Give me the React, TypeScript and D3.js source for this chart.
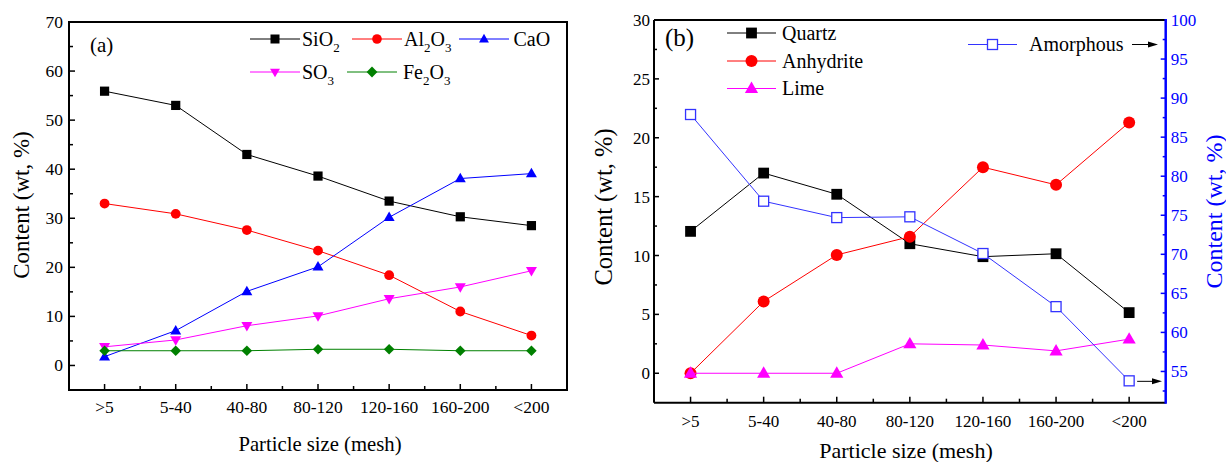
import React from "react";
import * as d3 from "d3";

const categories = [">5", "5-40", "40-80", "80-120", "120-160", "160-200", "<200"];

const sio2 = [55.9, 53.0, 43.0, 38.6, 33.5, 30.3, 28.5];
const al2o3 = [33.0, 30.9, 27.6, 23.4, 18.4, 11.0, 6.1];
const cao = [1.8, 7.1, 15.1, 20.1, 30.2, 38.1, 39.1];
const so3 = [3.8, 5.2, 8.1, 10.1, 13.6, 16.0, 19.3];
const fe2o3 = [3.0, 3.0, 3.0, 3.3, 3.3, 3.0, 3.0];

const quartz = [12.05, 17.0, 15.2, 11.0, 9.9, 10.15, 5.15];
const anhydrite = [0.0, 6.1, 10.05, 11.6, 17.5, 16.0, 21.3];
const lime = [0.0, 0.0, 0.0, 2.5, 2.4, 1.9, 2.9];
const amorphous = [87.9, 76.8, 74.7, 74.8, 70.1, 63.3, 53.8];

const yTicksA = [0, 10, 20, 30, 40, 50, 60, 70];
const yMinorA = [5, 15, 25, 35, 45, 55, 65];
const yTicksBL = [0, 5, 10, 15, 20, 25, 30];
const yMinorBL = [2.5, 7.5, 12.5, 17.5, 22.5, 27.5];
const yTicksBR = [55, 60, 65, 70, 75, 80, 85, 90, 95, 100];
const yMinorBR = [52.5, 57.5, 62.5, 67.5, 72.5, 77.5, 82.5, 87.5, 92.5, 97.5];

const FONT = '"Liberation Serif", "Times New Roman", Times, Tinos, "Nimbus Roman", "DejaVu Serif", serif';

type Shape = "square" | "circle" | "tri" | "triDown" | "diamond" | "openSquare";

function Marker({ shape, x, y, color, s }: { shape: Shape; x: number; y: number; color: string; s: number }) {
  switch (shape) {
    case "square":
      return <rect x={x - s} y={y - s} width={2 * s} height={2 * s} fill={color} />;
    case "openSquare":
      return <rect x={x - s} y={y - s} width={2 * s} height={2 * s} fill="white" stroke={color} strokeWidth={1.3} />;
    case "circle":
      return <circle cx={x} cy={y} r={s} fill={color} />;
    case "tri":
      return <path d={`M${x},${y - s * 1.15}L${x + s * 1.1},${y + s * 0.75}L${x - s * 1.1},${y + s * 0.75}Z`} fill={color} />;
    case "triDown":
      return <path d={`M${x},${y + s * 1.15}L${x + s * 1.1},${y - s * 0.75}L${x - s * 1.1},${y - s * 0.75}Z`} fill={color} />;
    case "diamond":
      return <path d={`M${x},${y - s * 1.2}L${x + s * 1.2},${y}L${x},${y + s * 1.2}L${x - s * 1.2},${y}Z`} fill={color} />;
  }
  return null;
}

function Series({ values, x, y, color, shape, s }: any) {
  const line = d3.line<number>().x((_, i) => x(i)).y((v) => y(v));
  return (
    <g>
      <path d={line(values) || ""} fill="none" stroke={color} strokeWidth={1} />
      {values.map((v: number, i: number) => (
        <Marker key={i} shape={shape} x={x(i)} y={y(v)} color={color} s={s} />
      ))}
    </g>
  );
}

function T({ x, y, size, anchor, fill, transform, children }: any) {
  return (
    <text
      x={x}
      y={y}
      transform={transform}
      textAnchor={anchor || "start"}
      fill={fill || "#000"}
      style={{ fontFamily: FONT, fontSize: size }}
    >
      {children}
    </text>
  );
}

function Sub({ parts, x, y, size, subSize }: { parts: [string, boolean][]; x: number; y: number; size: number; subSize: number }) {
  let prevSub = false;
  return (
    <text x={x} y={y} fill="#000" style={{ fontFamily: FONT, fontSize: size }}>
      {parts.map(([t, sub], i) => {
        const dy = sub && !prevSub ? 6 : !sub && prevSub ? -6 : 0;
        prevSub = sub;
        return (
          <tspan key={i} dy={dy} style={{ fontSize: sub ? subSize : size }}>
            {t}
          </tspan>
        );
      })}
    </text>
  );
}

function ChartA() {
  const L = 69, R = 567, Tp = 22, B = 390;
  const x = d3.scaleLinear().domain([-0.5, 6.5]).range([L, R]);
  const y = d3.scaleLinear().domain([-5, 70]).range([B, Tp]);
  const legendRow1 = 39, legendRow2 = 72;
  const leg = (x0: number, yy: number, color: string, shape: Shape) => (
    <g>
      <line x1={x0} x2={x0 + 50} y1={yy} y2={yy} stroke={color} strokeWidth={1} />
      <Marker shape={shape} x={x0 + 25} y={yy} color={color} s={shape === "circle" ? 4.8 : 4.5} />
    </g>
  );
  return (
    <g>
      {yTicksA.map((t) => (
        <g key={"ya" + t}>
          <line x1={L} x2={L + 6} y1={y(t)} y2={y(t)} stroke="#000" strokeWidth={1.5} />
          <T x={L - 6} y={y(t) + 6} anchor="end" size={17.5}>{t}</T>
        </g>
      ))}
      {yMinorA.map((t) => (
        <line key={"yma" + t} x1={L} x2={L + 4} y1={y(t)} y2={y(t)} stroke="#000" strokeWidth={1.5} />
      ))}
      {categories.map((c, i) => (
        <g key={"xa" + i}>
          <line x1={x(i)} x2={x(i)} y1={B} y2={B - 6} stroke="#000" strokeWidth={1.5} />
          <T x={x(i)} y={413} anchor="middle" size={17.5}>{c}</T>
        </g>
      ))}
      {d3.range(0, 6).map((i) => (
        <line key={"xma" + i} x1={x(i + 0.5)} x2={x(i + 0.5)} y1={B} y2={B - 4} stroke="#000" strokeWidth={1.5} />
      ))}
      <Series values={sio2} x={x} y={y} color="#000000" shape="square" s={4.6} />
      <Series values={al2o3} x={x} y={y} color="#ff0000" shape="circle" s={4.9} />
      <Series values={cao} x={x} y={y} color="#0000ff" shape="tri" s={5} />
      <Series values={so3} x={x} y={y} color="#ff00ff" shape="triDown" s={5} />
      <Series values={fe2o3} x={x} y={y} color="#008000" shape="diamond" s={4.4} />
      <rect x={L} y={Tp} width={R - L} height={B - Tp} fill="none" stroke="#000" strokeWidth={2} />
      <T x={90} y={52} size={21}>(a)</T>
      {leg(250, legendRow1, "#000000", "square")}
      <Sub parts={[["SiO", false], ["2", true]]} x={302} y={legendRow1 + 6.5} size={20} subSize={13} />
      {leg(352, legendRow1, "#ff0000", "circle")}
      <Sub parts={[["Al", false], ["2", true], ["O", false], ["3", true]]} x={404} y={legendRow1 + 6.5} size={20} subSize={13} />
      {leg(459, legendRow1, "#0000ff", "tri")}
      <Sub parts={[["CaO", false]]} x={513.5} y={legendRow1 + 6.5} size={20} subSize={13} />
      {leg(250, legendRow2, "#ff00ff", "triDown")}
      <Sub parts={[["SO", false], ["3", true]]} x={302} y={legendRow2 + 6.5} size={20} subSize={13} />
      {leg(347, legendRow2, "#008000", "diamond")}
      <Sub parts={[["Fe", false], ["2", true], ["O", false], ["3", true]]} x={403} y={legendRow2 + 6.5} size={20} subSize={13} />
      <T x={(L + R) / 2 + 2} y={451} anchor="middle" size={20.7}>Particle size (mesh)</T>
      <T transform={`translate(28.5,${(Tp + B) / 2 - 1}) rotate(-90)`} x={0} y={0} anchor="middle" size={23}>
        Content (wt, %)
      </T>
    </g>
  );
}

function ChartB() {
  const L = 654, R = 1165.7, Tp = 20, B = 402.7;
  const x = d3.scaleLinear().domain([-0.5, 6.5]).range([L, R]);
  const y = d3.scaleLinear().domain([-2.5, 30]).range([B, Tp]);
  const y2 = d3.scaleLinear().domain([51, 100]).range([B, Tp]);
  const blue = "#0000ff";
  const leg = (x0: number, yy: number, color: string, shape: Shape, s: number) => (
    <g>
      <line x1={x0} x2={x0 + 49} y1={yy} y2={yy} stroke={color} strokeWidth={1} />
      <Marker shape={shape} x={x0 + 24.5} y={yy} color={color} s={s} />
    </g>
  );
  const lastY = y2(amorphous[6]) + 0.5;
  return (
    <g>
      {yTicksBL.map((t) => (
        <g key={"yb" + t}>
          <line x1={L} x2={L + 5} y1={y(t)} y2={y(t)} stroke="#000" strokeWidth={1.5} />
          <T x={L - 4} y={y(t) + 6} anchor="end" size={17}>{t}</T>
        </g>
      ))}
      {yMinorBL.map((t) => (
        <line key={"ymb" + t} x1={L} x2={L + 3} y1={y(t)} y2={y(t)} stroke="#000" strokeWidth={1.5} />
      ))}
      {yTicksBR.map((t) => (
        <g key={"yr" + t}>
          <line x1={R} x2={R - 5} y1={y2(t)} y2={y2(t)} stroke={blue} strokeWidth={1.5} />
          <T x={R + 5} y={y2(t) + 6} size={17} fill={blue}>{t}</T>
        </g>
      ))}
      {yMinorBR.map((t) => (
        <line key={"ymr" + t} x1={R} x2={R - 3} y1={y2(t)} y2={y2(t)} stroke={blue} strokeWidth={1.5} />
      ))}
      {categories.map((c, i) => (
        <g key={"xb" + i}>
          <line x1={x(i)} x2={x(i)} y1={B} y2={B - 6} stroke="#000" strokeWidth={1.5} />
          <T x={x(i)} y={426.5} anchor="middle" size={17}>{c}</T>
        </g>
      ))}
      {d3.range(0, 6).map((i) => (
        <line key={"xmb" + i} x1={x(i + 0.5)} x2={x(i + 0.5)} y1={B} y2={B - 4} stroke="#000" strokeWidth={1.5} />
      ))}
      <Series values={quartz} x={x} y={y} color="#000000" shape="square" s={5.4} />
      <Series values={anhydrite} x={x} y={y} color="#ff0000" shape="circle" s={6} />
      <Series values={lime} x={x} y={y} color="#ff00ff" shape="tri" s={6} />
      <Series values={amorphous} x={x} y={y2} color="#3333ff" shape="openSquare" s={5} />
      <line x1={L} x2={R} y1={Tp} y2={Tp} stroke="#000" strokeWidth={2} />
      <line x1={L} x2={L} y1={Tp} y2={B} stroke="#000" strokeWidth={2} />
      <line x1={L} x2={R} y1={B} y2={B} stroke="#000" strokeWidth={2} />
      <line x1={R} x2={R} y1={Tp - 1} y2={B + 1} stroke={blue} strokeWidth={2.5} />
      <T x={665} y={46} size={25}>(b)</T>
      {leg(727, 33, "#000000", "square", 5.4)}
      <T x={782} y={39.5} size={20}>Quartz</T>
      {leg(727, 61, "#ff0000", "circle", 6)}
      <T x={782} y={67.5} size={20}>Anhydrite</T>
      {leg(727, 88.5, "#ff00ff", "tri", 6)}
      <T x={782} y={95} size={20}>Lime</T>
      {leg(968, 44.5, "#3333ff", "openSquare", 5)}
      <T x={1029} y={51} size={20}>Amorphous</T>
      <line x1={1132} x2={1150} y1={44.5} y2={44.5} stroke="#000" strokeWidth={1} />
      <path d="M1158,44.5L1148,41.5L1148,47.5Z" fill="#000" />
      <line x1={x(6) + 8} x2={1154} y1={lastY} y2={lastY} stroke="#000" strokeWidth={1} />
      <path d={`M1162,${lastY}L1152,${lastY - 3}L1152,${lastY + 3}Z`} fill="#000" />
      <T x={906} y={458} anchor="middle" size={22}>Particle size (mesh)</T>
      <T transform={`translate(611.5,207) rotate(-90)`} x={0} y={0} anchor="middle" size={24.5}>
        Content (wt, %)
      </T>
      <T transform={`translate(1222,211.5) rotate(-90)`} x={0} y={0} anchor="middle" size={24} fill={blue}>
        Content (wt, %)
      </T>
    </g>
  );
}

export default function App() {
  return (
    <svg
      width={1226}
      height={462}
      viewBox="0 0 1226 462"
      style={{ position: "absolute", left: 0, top: 0, background: "#fff" }}
    >
      <rect x={0} y={0} width={1226} height={462} fill="#fff" />
      <ChartA />
      <ChartB />
    </svg>
  );
}
